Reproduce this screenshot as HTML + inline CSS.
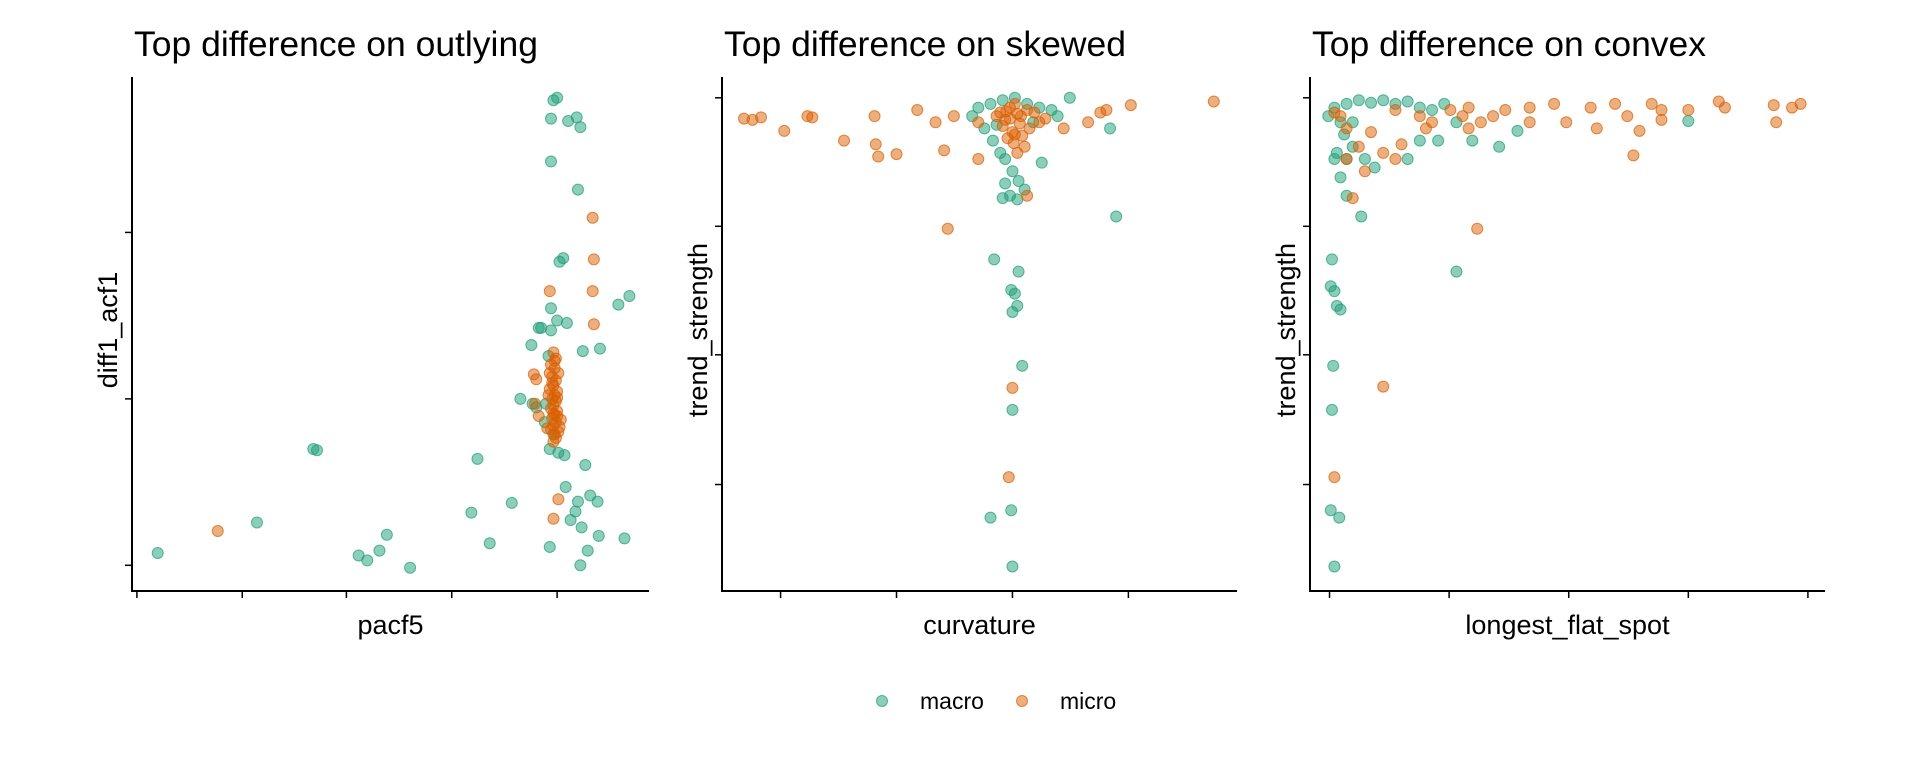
<!DOCTYPE html>
<html><head><meta charset="utf-8"><style>
html,body{margin:0;padding:0;background:#fff;}
svg{display:block;font-family:"Liberation Sans",Arial,sans-serif;}
</style></head><body>
<svg id="chart" width="1920" height="768" viewBox="0 0 1920 768"></svg>
<script>
const panelTitles = ["Top difference on outlying","Top difference on skewed","Top difference on convex"];
const xLabels = ["pacf5","curvature","longest_flat_spot"];
const yLabels = ["diff1_acf1","trend_strength","trend_strength"];
const seriesNames = ["macro","micro"];
const xTicks1 = [0.04,0.90,1.75,2.61,3.47];
const yTicks1 = [2.93,1.57,0.21];
const xTicks2 = [0.48,1.43,2.38,3.33];
const yTicks2 = [4.03,2.98,1.93,0.87];
const xTicks3 = [0.16,1.14,2.12,3.10,4.08];
const yTicks3 = [4.03,2.98,1.93,0.87];

const macro1 = [[0.21,0.31],[1.02,0.56],[1.48,1.16],[1.51,1.15],[1.85,0.29],[1.92,0.25],[2.02,0.33],[2.08,0.46],[2.27,0.19],[2.82,1.08],[2.77,0.64],[2.92,0.39],[3.10,0.72],[3.44,4.01],[3.47,4.03],[3.42,3.86],[3.56,3.84],[3.63,3.87],[3.66,3.79],[3.42,3.51],[3.64,3.28],[3.52,2.72],[3.49,2.69],[3.42,2.31],[3.26,2.01],[3.34,2.15],[3.42,2.13],[3.47,2.21],[3.55,2.19],[3.40,1.92],[3.68,1.96],[3.82,1.98],[3.97,2.34],[4.06,2.41],[3.17,1.57],[3.27,1.53],[3.30,1.50],[3.41,1.16],[3.48,1.13],[3.53,1.11],[3.70,1.03],[3.54,0.85],[3.64,0.73],[3.74,0.78],[3.80,0.73],[3.62,0.65],[3.58,0.58],[3.67,0.52],[3.81,0.45],[4.02,0.43],[3.41,0.36],[3.72,0.33],[3.66,0.21],[3.37,1.38],[3.44,1.28],[3.32,2.15],[3.38,1.53]];
const micro1 = [[0.70,0.49],[3.76,3.05],[3.77,2.71],[3.76,2.45],[3.77,2.18],[3.41,2.45],[3.28,1.77],[3.30,1.73],[3.29,1.53],[3.32,1.43],[3.48,0.75],[3.44,0.59],[3.39,1.33],[3.47,1.43],[3.44,1.95],[3.46,1.90],[3.42,1.85],[3.45,1.82],[3.48,1.78],[3.43,1.75],[3.46,1.72],[3.44,1.68],[3.41,1.65],[3.47,1.63],[3.45,1.60],[3.43,1.57],[3.46,1.55],[3.44,1.52],[3.42,1.49],[3.47,1.47],[3.45,1.44],[3.43,1.41],[3.46,1.38],[3.44,1.35],[3.42,1.32],[3.48,1.30],[3.45,1.28],[3.43,1.70],[3.47,1.58],[3.44,1.45],[3.50,1.40],[3.40,1.60],[3.46,1.25],[3.44,1.22],[3.49,1.34],[3.41,1.78],[3.45,1.88]];
const macro2 = [[2.20,3.98],[2.30,4.01],[2.40,4.03],[2.50,3.98],[2.60,3.95],[2.70,3.93],[2.85,4.03],[2.05,3.88],[2.15,3.78],[2.22,3.68],[2.28,3.58],[2.32,3.53],[2.38,3.43],[2.43,3.35],[2.32,3.33],[2.36,3.23],[2.30,3.21],[2.42,3.20],[2.48,3.28],[2.62,3.50],[3.18,3.78],[3.23,3.06],[2.23,2.71],[2.43,2.61],[2.37,2.46],[2.40,2.43],[2.42,2.33],[2.38,2.28],[2.46,1.84],[2.38,1.48],[2.37,0.66],[2.20,0.60],[2.38,0.20],[2.25,3.81],[2.55,3.83],[2.10,3.95],[2.75,3.88]];
const micro2 = [[0.18,3.86],[0.25,3.85],[0.32,3.87],[0.51,3.76],[0.70,3.88],[0.74,3.87],[1.00,3.68],[1.25,3.88],[1.26,3.65],[1.28,3.55],[1.43,3.57],[1.60,3.93],[1.75,3.83],[1.82,3.60],[1.85,2.96],[1.90,3.88],[2.10,3.53],[2.80,3.78],[3.00,3.83],[3.10,3.91],[3.15,3.93],[3.35,3.97],[4.03,4.00],[2.10,3.83],[2.25,3.88],[2.50,3.93],[2.65,3.86],[2.38,1.66],[2.35,0.93],[2.50,3.23],[2.40,3.73],[2.32,3.85],[2.45,3.88],[2.52,3.78],[2.28,3.91],[2.36,3.95],[2.56,3.91],[2.60,3.83],[2.48,3.63],[2.42,3.58],[2.30,3.80],[2.34,3.70],[2.38,3.75],[2.42,3.90],[2.44,3.82],[2.40,3.98],[2.36,3.86],[2.46,3.72],[2.33,3.92],[2.39,3.66]];
const macro3 = [[0.20,3.95],[0.30,3.98],[0.40,4.01],[0.50,3.99],[0.60,4.01],[0.70,3.98],[0.80,4.00],[0.90,3.95],[0.25,3.83],[0.28,3.73],[0.22,3.58],[0.20,3.53],[0.25,3.38],[0.30,3.23],[0.42,3.06],[0.30,3.53],[0.35,3.63],[0.45,3.53],[0.53,3.46],[0.80,3.53],[0.90,3.68],[1.05,3.68],[1.20,3.83],[1.33,3.68],[1.55,3.63],[1.70,3.76],[3.10,3.84],[1.20,2.61],[0.18,2.71],[0.17,2.49],[0.20,2.45],[0.22,2.33],[0.25,2.30],[0.19,1.84],[0.18,1.48],[0.17,0.66],[0.24,0.60],[0.20,0.20],[0.35,3.83],[1.00,3.93],[1.10,3.98],[0.15,3.88]];
const micro3 = [[0.20,3.91],[0.25,3.88],[0.30,3.78],[0.40,3.63],[0.50,3.75],[0.60,3.58],[0.75,3.65],[0.90,3.88],[1.00,3.83],[1.15,3.93],[1.25,3.88],[1.30,3.95],[1.40,3.83],[1.50,3.88],[1.60,3.93],[1.80,3.95],[2.00,3.98],[2.10,3.83],[2.30,3.95],[2.35,3.78],[2.50,3.98],[2.60,3.88],[2.65,3.56],[2.70,3.76],[2.80,3.98],[2.88,3.93],[2.88,3.85],[3.10,3.93],[3.35,4.00],[3.40,3.95],[3.80,3.97],[3.82,3.83],[3.95,3.95],[4.02,3.98],[1.37,2.96],[0.60,1.67],[0.20,0.93],[0.30,3.53],[0.70,3.53],[0.45,3.43],[0.35,3.21],[0.95,3.78],[1.80,3.83],[0.70,3.93],[1.30,3.78]];

const NS = "http://www.w3.org/2000/svg";
const svg = document.getElementById("chart");
const colors = ["#1b9e77","#d95f02"];
const panels = [
  {x0:132,x1:649,xt:xTicks1,yt:yTicks1,data:[macro1,micro1]},
  {x0:722,x1:1237,xt:xTicks2,yt:yTicks2,data:[macro2,micro2]},
  {x0:1310,x1:1825,xt:xTicks3,yt:yTicks3,data:[macro3,micro3]}
];
const Y0 = 591, Y1 = 77, XMAX = 4.22, YMAX = 4.20;
function mk(tag, attrs, parent){const e=document.createElementNS(NS,tag);for(const k in attrs)e.setAttribute(k,attrs[k]);(parent||svg).appendChild(e);return e;}

panels.forEach((p,i)=>{
  const sx = v => p.x0 + v/XMAX*(p.x1-p.x0);
  const sy = v => Y0 - v/YMAX*(Y0-Y1);
  const g = mk("g",{});
  
  
  const t = mk("text",{x:p.x0+2,y:56,"font-size":"35.5","fill":"#000"},g);
  t.textContent = panelTitles[i];
  
  
  const ya = mk("line",{x1:p.x0,y1:Y1,x2:p.x0,y2:Y0+1,stroke:"#000","stroke-width":2},g);
  
  
  const xa = mk("line",{x1:p.x0-1,y1:Y0,x2:p.x1,y2:Y0,stroke:"#000","stroke-width":2},g);
  
  
  p.xt.forEach(v=>{
    const tk = mk("line",{x1:sx(v),y1:Y0,x2:sx(v),y2:Y0+7,stroke:"#000","stroke-width":1.5},g);
    
    
  });
  p.yt.forEach(v=>{
    const tk = mk("line",{x1:p.x0-7,y1:sy(v),x2:p.x0,y2:sy(v),stroke:"#000","stroke-width":1.5},g);
    
    
  });
  const xl = mk("text",{x:(p.x0+p.x1)/2,y:634,"font-size":"27","text-anchor":"middle"},g);
  xl.textContent = xLabels[i];
  
  
  const yl = mk("text",{x:0,y:0,"font-size":"27","text-anchor":"middle",transform:`translate(${p.x0-15},330) rotate(-90)`},g);
  yl.textContent = yLabels[i];
  
  
  p.data.forEach((ser,si)=>{
    ser.forEach(d=>{
      const c = mk("circle",{cx:sx(d[0]),cy:sy(d[1]),r:5.5,fill:colors[si],"fill-opacity":0.5,stroke:colors[si],"stroke-opacity":0.7,"stroke-width":1},g);
      
      
    });
  });
});

const lg = mk("g",{});


const legX = [882, 1022];
seriesNames.forEach((n,i)=>{
  const c = mk("circle",{cx:legX[i],cy:701,r:5.5,fill:colors[i],"fill-opacity":0.5,stroke:colors[i],"stroke-opacity":0.7},lg);
  
  
  const t = mk("text",{x:legX[i]+38,y:709,"font-size":"23"},lg);
  t.textContent = n;
  
  
});
</script>
</body></html>
